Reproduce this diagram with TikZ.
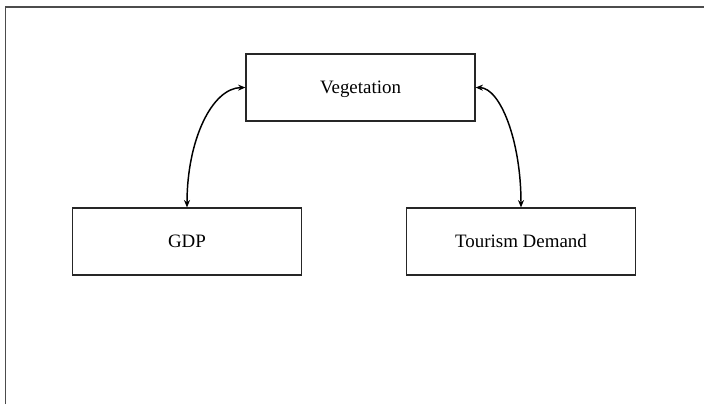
\documentclass[tikz,border=0pt]{standalone}
\usepackage{fontspec}
\setmainfont{Liberation Serif}
\usetikzlibrary{arrows.meta}
\begin{document}
\begin{tikzpicture}[x=0.75pt,y=-0.75pt,
  box/.style={draw=black!85,line width=0.9pt,minimum width=229*0.75pt,minimum height=67*0.75pt,inner sep=0pt,font=\fontsize{14.2pt}{16pt}\selectfont,text height=11.5pt,text depth=3pt},
  link/.style={line width=1.1pt,{Stealth[length=5.5pt,width=4.5pt]}-{Stealth[length=5.5pt,width=4.5pt]}}]
  \useasboundingbox (0,0) rectangle (704,404);
  % outer frame edges
  \draw[black!70,line width=1.2pt] (5.5,404) -- (5.5,7) -- (704,7);
  \node[box] (veg) at (360.5,87.5) {Vegetation};
  \node[box] (gdp) at (187,241.5) {GDP};
  \node[box] (tour) at (521,241.5) {Tourism Demand};
  \draw[link] (veg.west) .. controls (212,88) and (187,140) .. (gdp.north);
  \draw[link] (veg.east) .. controls (500,88) and (521,140) .. (tour.north);
\end{tikzpicture}
\end{document}
